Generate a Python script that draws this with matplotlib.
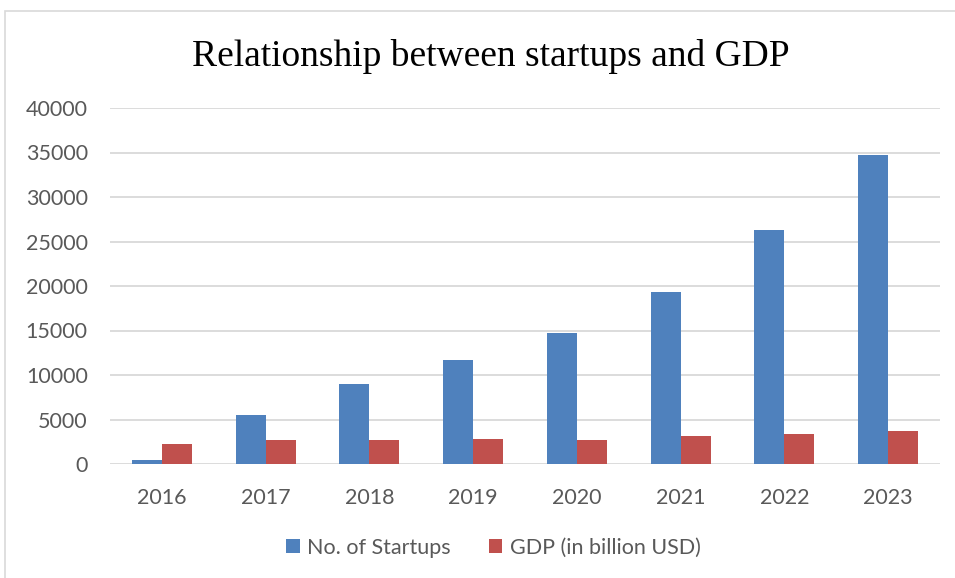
import matplotlib.pyplot as plt
import numpy as np
from matplotlib.patches import Rectangle

years = ["2016", "2017", "2018", "2019", "2020", "2021", "2022", "2023"]
startups = [460, 5450, 8950, 11700, 14700, 19350, 26300, 34750]
gdp = [2290, 2650, 2700, 2840, 2670, 3170, 3390, 3750]

BLUE = "#4f81bd"
RED = "#c0504d"
GRID = "#d9d9d9"
TEXT = "#595959"

fig = plt.figure(figsize=(9.55, 5.78), dpi=100)
ax = fig.add_axes([110 / 955, 1 - 464 / 578, 830 / 955, 356 / 578])

# chart-area frame
fig.patches.append(Rectangle((5 / 955, -0.01), 1.0, 1 - 11 / 578 + 0.01,
                             transform=fig.transFigure, fill=False,
                             edgecolor=GRID, linewidth=1.2))

x = np.arange(len(years))
w = 0.29
ax.bar(x - w / 2, startups, w, color=BLUE, label="No. of Startups", zorder=3)
ax.bar(x + w / 2, gdp, w, color=RED, label="GDP (in billion USD)", zorder=3)

ax.set_xlim(-0.5, len(years) - 0.5)
ax.set_ylim(0, 40000)
ax.set_yticks(range(0, 40001, 5000))
ax.set_xticks(x)
ax.set_xticklabels(years)
ax.yaxis.grid(True, color=GRID, linewidth=1.3, zorder=0)
for s in ax.spines.values():
    s.set_visible(False)
ax.tick_params(axis="both", length=0, labelsize=15.5, labelcolor=TEXT)
ax.tick_params(axis="y", pad=16)
ax.tick_params(axis="x", pad=17)
for lbl in ax.get_xticklabels() + ax.get_yticklabels():
    lbl.set_family("Lato")

fig.text(0.514, 1 - 57 / 578, "Relationship between startups and GDP",
         ha="center", va="center", family="Liberation Serif", fontsize=27,
         color="black")

ax.legend(loc="center", bbox_to_anchor=(0.462, (464 - 548) / 356), ncol=2,
          frameon=False, handlelength=0.62, handleheight=0.62,
          handletextpad=0.35, columnspacing=1.75,
          prop={"family": "Lato", "size": 15.5}, labelcolor=TEXT)

fig.savefig("out.png", dpi=100)
